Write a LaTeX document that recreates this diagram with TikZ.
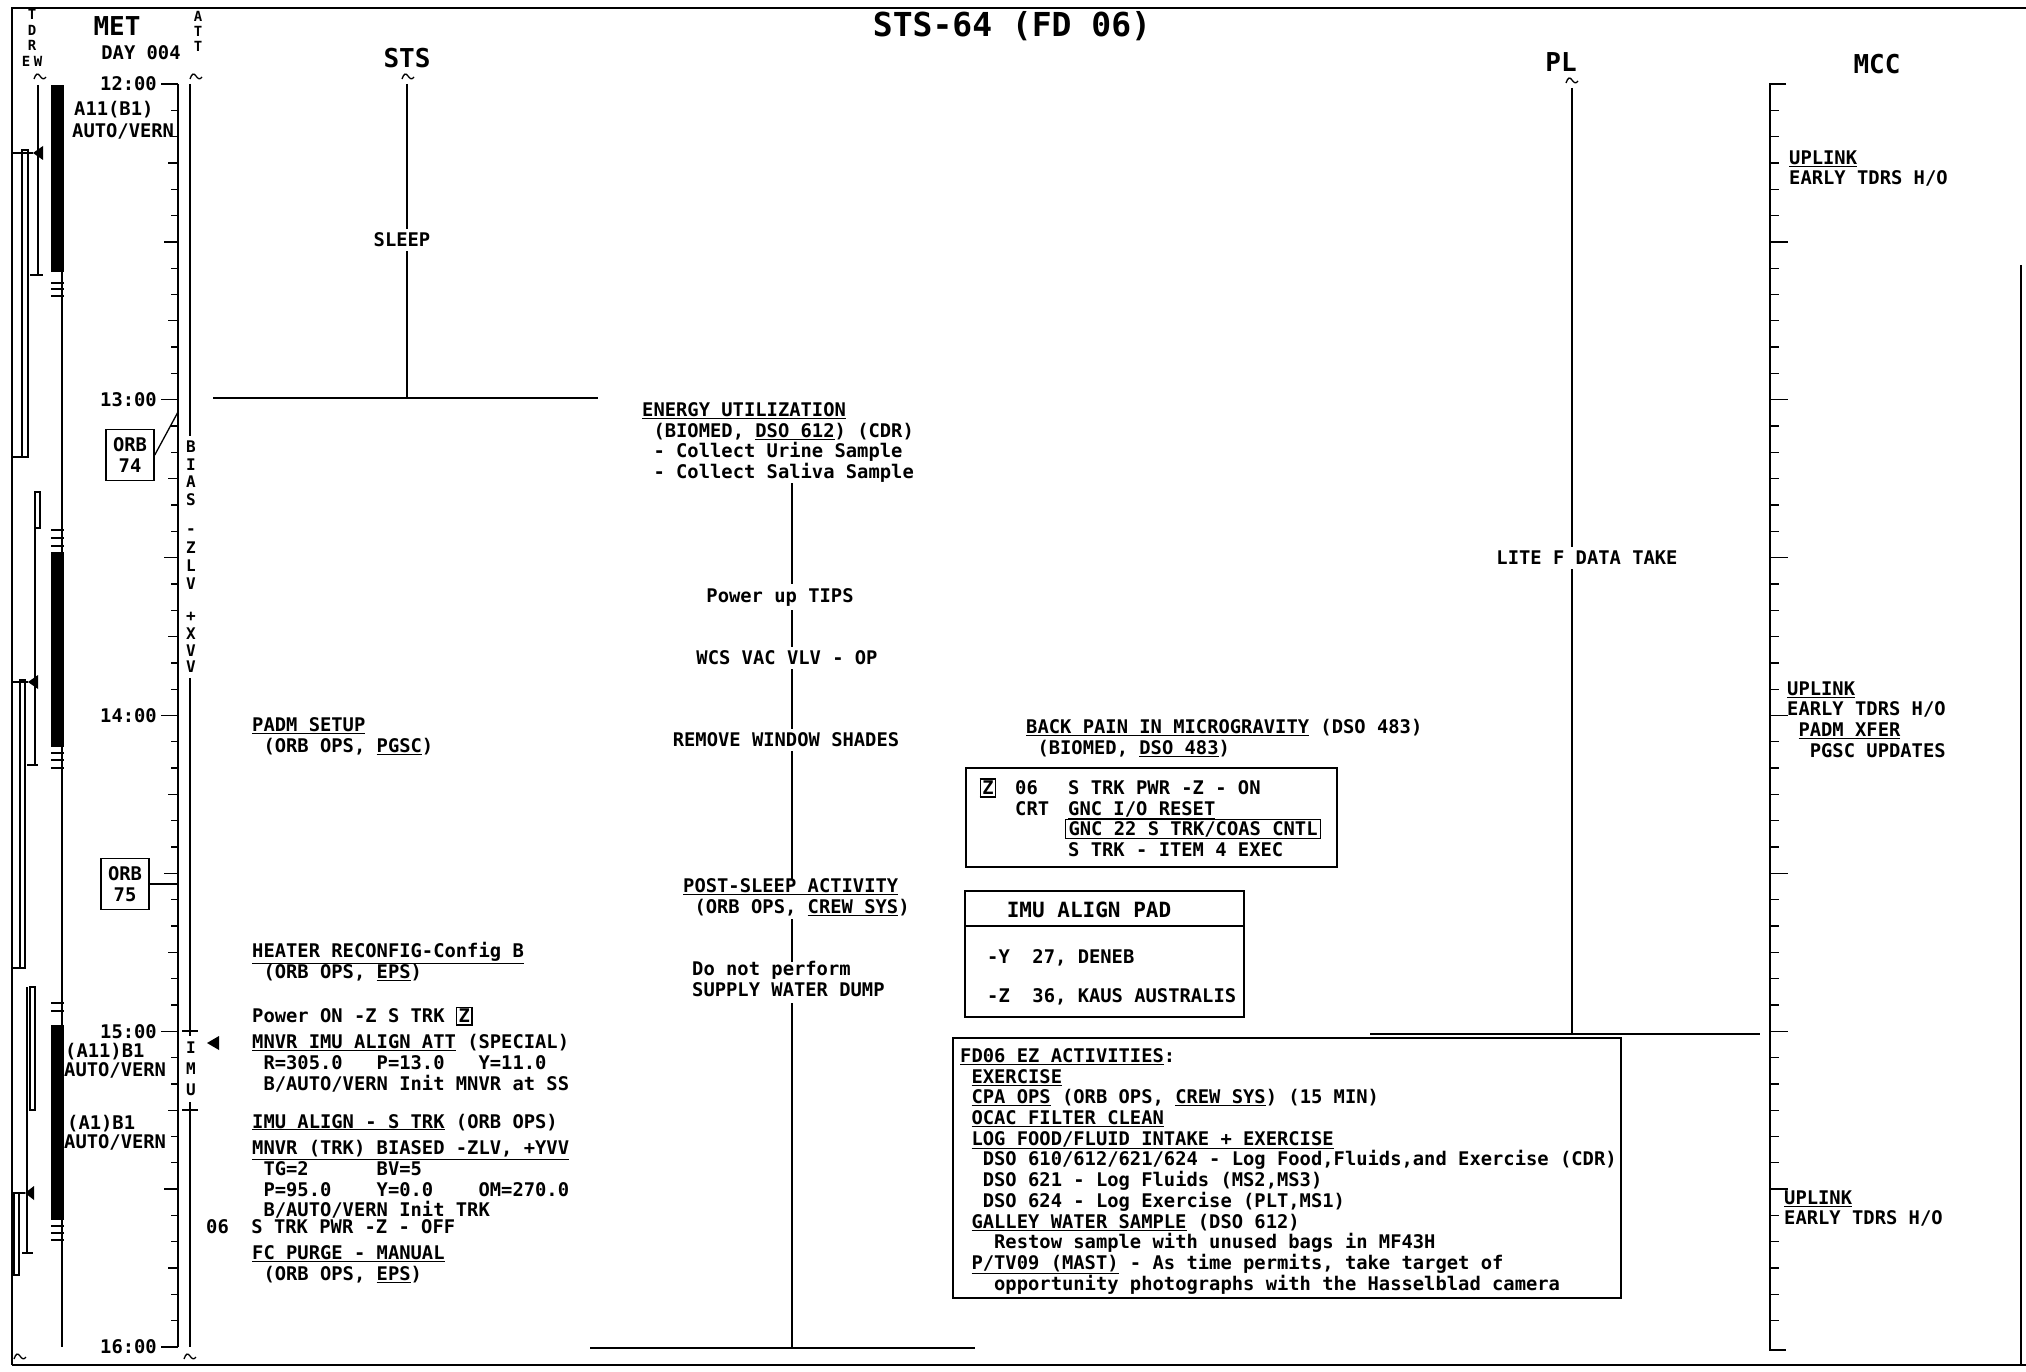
\documentclass[tikz,border=0pt]{standalone}
\usepackage{fontspec}
\newfontfamily\fpmono{DejaVu Sans Mono}
\newcommand\fpfont{\fpmono\bfseries\fontsize{18.8}{20.7}\selectfont\lineskiplimit=-50pt\relax}
\newcommand\uln[1]{\underline{#1}}
\newcommand\ind[1]{\hskip#1\fontcharwd\font`0\relax}
\newcommand\zbox{{\fboxsep=1.5pt\fboxrule=1.2pt\fbox{Z}}}

\begin{document}
\begin{tikzpicture}[
  x=1pt, y=-1pt,
  rule/.style={line width=1.8pt},
  frame/.style={line width=1.5pt},
  tick/.style={line width=1.3pt},
  txt/.style={font=\fpfont, anchor=north west, inner sep=0pt, align=left, yshift=7.7pt, execute at begin node=\strut},
  wtxt/.style={txt, fill=white},
  lbl/.style={font=\fpfont, fill=white, inner xsep=2pt, inner ysep=4pt},
  hdr/.style={font=\fpmono\bfseries\fontsize{26}{30}\selectfont, inner sep=0pt},
  vlet/.style={font=\fpmono\bfseries\fontsize{16}{18}\selectfont, inner sep=0pt},
  small/.style={font=\fpmono\bfseries\fontsize{14}{16}\selectfont, inner sep=0pt},
  wv/.pic={\draw[line width=1.3pt] (-6,3) .. controls (-4,-3) and (-2,-3) .. (0,0) .. controls (2,3) and (4,4) .. (6,1);},
  pbox/.style={draw, line width=1.5pt, inner sep=0pt, anchor=north west},
  orb/.style={draw, line width=1.5pt, font=\fpfont, align=center, inner sep=1pt, minimum width=48pt, minimum height=51pt}
]
  \useasboundingbox (0,0) rectangle (2026,1372);

  % Marco
  \draw[frame] (12,1365) -- (12,8) -- (2026,8);
  \draw[frame] (12,1365) -- (2026,1365);
  \draw[frame] (2021,265) -- (2021,1365);

  % Titulo y cabeceras
  \node[font=\fpmono\bfseries\fontsize{33}{38}\selectfont, inner sep=0pt] (title) at (1012,26) {STS-64 (FD 06)};
  \node[hdr] (met) at (117,26) {MET};
  \node[font=\fpfont, inner sep=0pt] (day) at (141,53) {DAY 004};
  \node[small] (tdT) at (32,14) {T};
  \node[small] (tdD) at (32,30) {D};
  \node[small] (tdR) at (32,45) {R};
  \node[small] (tdE) at (26,61) {E};
  \node[small] (tdW) at (38,61) {W};
  \node[small] (attA) at (198,16) {A};
  \node[small] (attT) at (198,31) {T};
  \node[small] (attTT) at (198,46) {T};
  \pic at (40,76) {wv};
  \pic at (196,76) {wv};
  \pic at (20,1356) {wv};
  \pic at (190,1356) {wv};

  % TDRS
  \draw[tick] (12,153) -- (33,153);
  \fill (33,153) -- (43,146) -- (43,160) -- cycle;
  \draw[tick] (38,85) -- (38,275);
  \draw[tick] (30,275) -- (43,275);
  \draw[tick] (22,150) rectangle (28,457);
  \draw[tick] (12,457) -- (22,457);
  \draw[tick] (35,492) rectangle (40,528);
  \draw[tick] (35,528) -- (35,765);
  \draw[tick] (27,765) -- (38,765);
  \fill (28,682) -- (38,675) -- (38,689) -- cycle;
  \draw[tick] (12,682) -- (28,682);
  \draw[tick] (20,680) rectangle (25,968);
  \draw[tick] (12,968) -- (20,968);
  \draw[tick] (30,987) rectangle (35,1110);
  \draw[tick] (27,987) -- (27,1253);
  \draw[tick] (22,1253) -- (33,1253);
  \fill (25,1193) -- (34,1186) -- (34,1200) -- cycle;
  \draw[tick] (12,1193) -- (25,1193);
  \draw[tick] (14,1193) rectangle (19,1275);

  % Barras
  \draw[tick] (62,85) -- (62,1347);
  \fill (51,85) rectangle (64,272);
  \fill (51,552) rectangle (64,747);
  \fill (51,1025) rectangle (64,1220);
  \foreach \ty in {283,289,296,530,538,546,753,760,768,1003,1011,1226,1233,1240}
    \draw[tick] (51,\ty) -- (64,\ty);

  % Eje MET
  \draw[rule] (178,84) -- (178,1347);
  \foreach \i in {1,...,47}{
    \pgfmathsetmacro\ty{84+\i*26.3125}
    \pgfmathtruncatemacro\tkm{mod(\i,6)}
    \pgfmathtruncatemacro\tkq{mod(\i,3)}
    \pgfmathtruncatemacro\tkh{mod(\i,12)}
    \ifnum\tkm=0 \def\tklen{14}\else\ifnum\tkq=0 \def\tklen{10}\else\def\tklen{7}\fi\fi
    \ifnum\tkh>0 \draw[tick] (178-\tklen,\ty) -- (178,\ty);\fi
  }
  \foreach \h/\ty in {12/84,13/399.75,14/715.5,15/1031.25,16/1347}{
    \node[font=\fpfont, anchor=east, inner sep=0pt] (t\h) at (157,\ty) {\h:00};
    \draw[tick] ([xshift=4pt]t\h.east) -- (178,\ty);
  }
  \node[txt] (a11) at (74,109) {A11(B1)};
  \node[txt] (av1) at (72,131) {AUTO/VERN};
  \node[txt] (a11b) at (65,1050) {(A11)B1};
  \node[txt] (av2) at (64,1069) {AUTO/VERN};
  \node[txt] (a1b) at (67,1122) {(A1)B1};
  \node[txt] (av3) at (64,1141) {AUTO/VERN};
  \node[orb] (orb74) at (130,455) {ORB\\74};
  \draw[tick] (orb74.east) -- (178,412);
  \node[orb] (orb75) at (125,884) {ORB\\75};
  \draw[tick] (orb75.east) -- (178,884);

  % Eje ATT
  \coordinate (atta) at (190,84);
  \coordinate (attb) at (190,436);
  \coordinate (attc) at (190,678);
  \coordinate (attd) at (190,1036);
  \coordinate (atte) at (190,1102);
  \coordinate (attf) at (190,1347);
  \draw[rule] (atta) -- (attb);
  \draw[rule] (attc) -- (attd);
  \draw[rule] (atte) -- (attf);
  \draw[tick] (182,1031) -- (198,1031);
  \draw[tick] (182,1110) -- (198,1110);
  \foreach \c/\ty [count=\k] in {B/447,I/465,A/482,S/500,-/532,Z/548,L/566,V/584,+/617,X/634,V/651,V/667,I/1048,M/1069,U/1090}
    \node[vlet] (att\k) at (191,\ty) {\c};

  % Columna STS
  \node[hdr] (sts) at (407,58) {STS};
  \pic at (408,76) {wv};
  \coordinate (ststop) at (407,84);
  \coordinate (stsend) at (407,398);
  \draw[rule] (ststop) -- (stsend);
  \draw[rule] (213,398) -- (598,398);
  \node[lbl] (sleep) at (402,240) {SLEEP};
  \node[txt] (padm) at (252,725) {\uln{PADM SETUP}\\\ind{1}(ORB OPS, \uln{PGSC})};
  \node[txt] (heater) at (252,950) {\uln{HEATER RECONFIG-Config B}\\\ind{1}(ORB OPS, \uln{EPS})};
  \node[txt] (pwron) at (252,1014) {Power ON -Z S TRK \zbox};
  \fill (207,1043) -- (219,1036) -- (219,1050) -- cycle;
  \node[txt] (mnvr) at (252,1042) {\uln{MNVR IMU ALIGN ATT} (SPECIAL)\\\ind{1}R=305.0\ind{3}P=13.0\ind{3}Y=11.0\\\ind{1}B/AUTO/VERN Init MNVR at SS};
  \node[txt] (imualign) at (252,1121) {\uln{IMU ALIGN - S TRK} (ORB OPS)};
  \node[txt] (mnvrtrk) at (252,1148) {\uln{MNVR (TRK) BIASED -ZLV, +YVV}\\\ind{1}TG=2\ind{6}BV=5\\\ind{1}P=95.0\ind{4}Y=0.0\ind{4}OM=270.0\\\ind{1}B/AUTO/VERN Init TRK};
  \node[txt] (trkoff) at (206,1226) {06\ind{2}S TRK PWR -Z - OFF};
  \node[txt] (fcpurge) at (252,1253) {\uln{FC PURGE - MANUAL}\\\ind{1}(ORB OPS, \uln{EPS})};

  % Columna central
  \coordinate (midtop) at (792,483);
  \coordinate (midbot) at (792,1348);
  \draw[rule] (midtop) -- (midbot);
  \draw[rule] (590,1348) -- (975,1348);
  \node[txt] (energy) at (642,410) {\uln{ENERGY UTILIZATION}\\\ind{1}(BIOMED, \uln{DSO 612}) (CDR)\\\ind{1}- Collect Urine Sample\\\ind{1}- Collect Saliva Sample};
  \node[lbl] (tips) at (780,597) {Power up TIPS};
  \node[lbl] (wcs) at (787,658) {WCS VAC VLV - OP};
  \node[lbl] (shades) at (786,740) {REMOVE WINDOW SHADES};
  \node[wtxt] (postsleep) at (683,886) {\uln{POST-SLEEP ACTIVITY}\\\ind{1}(ORB OPS, \uln{CREW SYS})};
  \node[wtxt] (nodump) at (692,969) {Do not perform\\SUPPLY WATER DUMP};

  % Recuadros
  \node[txt] (backpain) at (1026,727) {\uln{BACK PAIN IN MICROGRAVITY} (DSO 483)\\\ind{1}(BIOMED, \uln{DSO 483})};
  \node[pbox, minimum width=371pt, minimum height=99pt] (trkbox) at (965,767) {};
  \node[font=\fpfont, inner sep=0pt] (zb) at (988,788) {\zbox};
  \node[txt] (crt) at (1015,788) {06\\CRT};
  \node[txt] (trkon) at (1068,788) {S TRK PWR -Z - ON\\\uln{GNC I/O RESET}};
  \node[font=\fpfont, draw, line width=1.2pt, inner xsep=3pt, inner ysep=2.5pt, anchor=west, text height=13.7pt, text depth=0.5pt] (gnc22) at (1065,829) {GNC 22 S TRK/COAS CNTL};
  \node[txt] (item4) at (1068,850) {S TRK - ITEM 4 EXEC};

  \node[pbox, minimum width=279pt, minimum height=126pt] (padbox) at (964,890) {};
  \draw[frame] (padbox.north west) ++(0,36) -- ++(279,0);
  \node[font=\fpmono\bfseries\fontsize{21}{24}\selectfont, inner sep=0pt] (padhdr) at (1089,910) {IMU ALIGN PAD};
  \node[txt] (pady) at (987,957) {-Y\ind{2}27, DENEB};
  \node[txt] (padz) at (987,996) {-Z\ind{2}36, KAUS AUSTRALIS};

  \node[pbox, minimum width=668pt, minimum height=260pt] (ezbox) at (952,1037) {};
  \node[txt] (ez) at (960,1056) {\uln{FD06 EZ ACTIVITIES}:\\
    \ind{1}\uln{EXERCISE}\\
    \ind{1}\uln{CPA OPS} (ORB OPS, \uln{CREW SYS}) (15 MIN)\\
    \ind{1}\uln{OCAC FILTER CLEAN}\\
    \ind{1}\uln{LOG FOOD/FLUID INTAKE + EXERCISE}\\
    \ind{2}DSO 610/612/621/624 - Log Food,Fluids,and Exercise (CDR)\\
    \ind{2}DSO 621 - Log Fluids (MS2,MS3)\\
    \ind{2}DSO 624 - Log Exercise (PLT,MS1)\\
    \ind{1}\uln{GALLEY WATER SAMPLE} (DSO 612)\\
    \ind{3}Restow sample with unused bags in MF43H\\
    \ind{1}\uln{P/TV09 (MAST)} - As time permits, take target of\\
    \ind{3}opportunity photographs with the Hasselblad camera};

  % Columna PL
  \node[hdr] (pl) at (1561,62) {PL};
  \pic at (1572,80) {wv};
  \coordinate (pltop) at (1572,88);
  \coordinate (plend) at (1572,1034);
  \draw[rule] (pltop) -- (plend);
  \draw[rule] (1370,1034) -- (1760,1034);
  \node[lbl] (litef) at (1587,558) {LITE F DATA TAKE};

  % Columna MCC
  \node[hdr] (mcc) at (1877,64) {MCC};
  \draw[rule] (1786,84) -- (1770,84) -- (1770,1350) -- (1786,1350);
  \foreach \i in {1,...,47}{
    \pgfmathsetmacro\ty{84+\i*26.3125}
    \pgfmathtruncatemacro\tkm{mod(\i,6)}
    \ifnum\tkm=0 \def\tklen{18}\else\def\tklen{9}\fi
    \draw[tick] (1770,\ty) -- (1770+\tklen,\ty);
  }
  \node[txt] (upl1) at (1789,158) {\uln{UPLINK}\\EARLY TDRS H/O};
  \node[txt] (upl2) at (1787,689) {\uln{UPLINK}\\EARLY TDRS H/O\\\ind{1}\uln{PADM XFER}\\\ind{2}PGSC UPDATES};
  \node[txt] (upl3) at (1784,1198) {\uln{UPLINK}\\EARLY TDRS H/O};
\end{tikzpicture}
\end{document}
